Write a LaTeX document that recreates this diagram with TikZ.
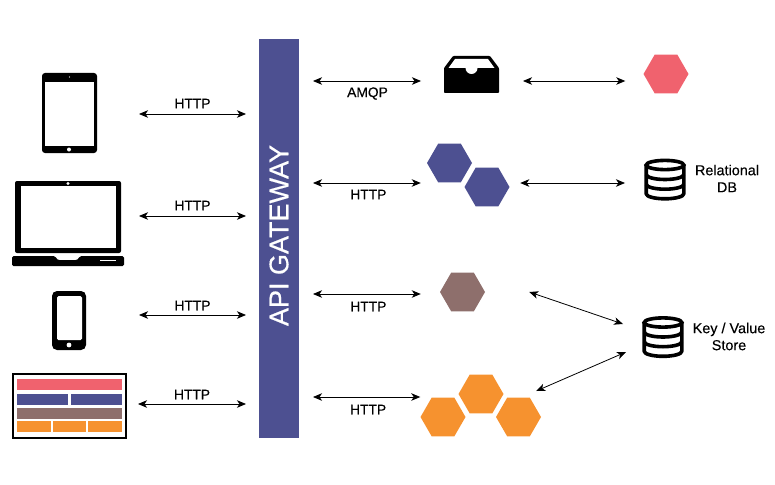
\documentclass[tikz,border=0pt]{standalone}
\usepackage{fontspec}
\setmainfont{Liberation Sans}
\newfontfamily\medfont[FakeBold=0.25]{Liberation Sans}
\newfontfamily\gwfont[FakeBold=0.5]{Liberation Sans}
\usetikzlibrary{arrows.meta,shapes.geometric,calc}
\definecolor{gwblue}{HTML}{4D5091}
\definecolor{svcred}{HTML}{F0626E}
\definecolor{svcbrown}{HTML}{8E6F6C}
\definecolor{svcorange}{HTML}{F6922F}
\tikzset{
  link/.style={{Stealth[length=9,width=7.5,inset=2.5]}-{Stealth[length=9,width=7.5,inset=2.5]},line width=0.8,black},
  lbl/.style={font=\medfont\fontsize{13.8}{16}\selectfont,inner sep=0,align=center},
  dblbl/.style={font=\medfont\fontsize{14.4}{17}\selectfont,inner sep=0,align=center},
  hexa/.style={regular polygon,regular polygon sides=6,minimum size=45,inner sep=0,fill=#1},
  holder/.style={inner sep=0,outer sep=0},
  bar/.style={fill=#1},
  pics/dbicon/.style={code={
    \draw[line width=3.6,black,fill=white,line join=round] (-18.8,-14.5) -- (-18.8,14.3) arc[start angle=180,end angle=0,x radius=18.8,y radius=5] -- (18.8,-14.5);
    \draw[line width=3.6,black,fill=white] (0,-14.5) ellipse[x radius=18.8,y radius=4.6];
    \draw[line width=3.6,black] (-18.8,-5) arc[start angle=180,end angle=0,x radius=18.8,y radius=5];
    \draw[line width=3.6,black] (-18.8,4.7) arc[start angle=180,end angle=0,x radius=18.8,y radius=5];
  }}
}
\begin{document}
\begin{tikzpicture}[x=1pt,y=-1pt]
\useasboundingbox (0,0) rectangle (775,484);
% gateway
\node[holder,fill=gwblue,minimum width=40,minimum height=399] (gateway) at (279,238.5) {};
\node[rotate=90,text=white,inner sep=0,font=\gwfont\fontsize{27}{30}\selectfont] (gatewayT) at ([yshift=3]gateway.center) {API GATEWAY};
% tablet
\node[holder,fill=black,rounded corners=3,minimum width=55,minimum height=80] (tablet) at (69.5,113) {};
\fill[white] (45,82) rectangle (94,146);
\fill[white] (69,149.5) circle[radius=2];
\fill[white] (69.5,77) circle[radius=0.6];
% laptop
\node[holder,minimum width=112,minimum height=85] (laptop) at (68,223.5) {};
\fill[black,rounded corners=2] (15,253) rectangle (121,181);
\fill[white] (20.5,186) rectangle (115.5,248);
\fill[white] (68,183.5) circle[radius=1.6];
\fill[black,rounded corners=1.5] (12,256) -- (55,256) .. controls (57,259.5) and (58,260) .. (61,260) -- (74,260) .. controls (77,260) and (78,259.5) .. (80,256) -- (124,256) -- (124,266) -- (12,266) -- cycle;
\fill[white] (100,259.5) rectangle (116,261);
% phone
\node[holder,fill=black,rounded corners=5,minimum width=34,minimum height=59] (phone) at (69,320.5) {};
\fill[white,rounded corners=1.5] (57,296) rectangle (82,340);
\fill[white] (69,345) circle[radius=2.4];
% browser
\node[holder,draw=black,line width=2,minimum width=113,minimum height=64] (browser) at (69.5,406) {};
\fill[bar=svcred] (17,379) rectangle (122,390);
\fill[bar=gwblue] (17,393.5) rectangle (67.5,404.5);
\fill[bar=gwblue] (70.5,393.5) rectangle (122,404.5);
\fill[bar=svcbrown] (17,407.5) rectangle (122,418.5);
\fill[bar=svcorange] (17,421) rectangle (50.5,432);
\fill[bar=svcorange] (52.5,421) rectangle (86,432);
\fill[bar=svcorange] (88,421) rectangle (122,432);
% inbox
\node[holder,minimum width=55,minimum height=37] (inbox) at (471.5,74.5) {};
\fill[black,rounded corners=0.8] (444,68) -- (453,56) -- (490,56) -- (499,68) -- (499,93) -- (444,93) -- cycle;
\fill[white] (448.5,68) -- (455,59) -- (488,59) -- (494.5,68) -- (477.5,68) arc[start angle=0,end angle=180,x radius=6,y radius=6] -- cycle;
% services
\node[hexa=svcred] (red) at (666,74) {};
\node[hexa=gwblue] (blueA) at (449.5,163) {};
\node[hexa=gwblue] (blueB) at (487,187) {};
\node[hexa=svcbrown] (brown) at (462.5,292) {};
\node[hexa=svcorange] (orangeT) at (481,394) {};
\node[hexa=svcorange] (orangeL) at (443,417) {};
\node[hexa=svcorange] (orangeR) at (518.5,417) {};
% databases
\node[holder,minimum width=42,minimum height=41] (reldb) at (665,179.5) {};
\pic at (reldb.center) {dbicon};
\node[holder,minimum width=42,minimum height=41] (kvdb) at (663,337) {};
\pic at (kvdb.center) {dbicon};
\node[dblbl] (reldbT) at (727,178.5) {Relational\\DB};
\node[dblbl] (kvdbT) at (729,336.5) {Key / Value\\Store};
% left connectors
\draw[link] ([shift={(42,1)}]tablet.east) -- ([shift={(-13,1)}]gateway.west |- tablet.east) node[lbl,midway,yshift=10.5] (h1) {HTTP};
\draw[link] ([shift={(15,-7.5)}]laptop.east) -- ([shift={(-13,-7.5)}]gateway.west |- laptop.east) node[lbl,midway,yshift=10.5] (h2) {HTTP};
\draw[link] ([shift={(53,-5.5)}]phone.east) -- ([shift={(-13,-5.5)}]gateway.west |- phone.east) node[lbl,midway,yshift=9.5] (h3) {HTTP};
\draw[link] ([shift={(12,-2)}]browser.east) -- ([shift={(-13,-2)}]gateway.west |- browser.east) node[lbl,midway,yshift=9.5] (h4) {HTTP};
% right connectors
\draw[link] ([shift={(14,6.5)}]gateway.east |- inbox.west) -- ([shift={(-23,6.5)}]inbox.west) node[lbl,midway,yshift=-12.5,xshift=0.5] (a1) {AMQP};
\draw[link] ([shift={(14,20)}]gateway.east |- blueA.west) -- ([shift={(-6,20)}]blueA.west) node[lbl,midway,yshift=-11.5,xshift=1.5] (h5) {HTTP};
\draw[link] ([shift={(14,2)}]gateway.east |- brown.west) -- ([shift={(-19,2)}]brown.west) node[lbl,midway,yshift=-12.5,xshift=1.5] (h6) {HTTP};
\draw[link] ([shift={(14,3)}]gateway.east |- orangeT.west) -- ([shift={(-38,3)}]orangeT.west) node[lbl,midway,yshift=-12.5,xshift=1.5] (h7) {HTTP};
\draw[link] ([shift={(24,6.5)}]inbox.east) -- ([shift={(-18,7)}]red.west);
\draw[link] ([shift={(10.5,-4)}]blueB.east) -- ([shift={(-19,3.5)}]reldb.west);
\draw[link] ([shift={(44,0)}]brown.east) -- ([shift={(-19,-13)}]kvdb.west);
\draw[link] ([shift={(-5,-26)}]orangeR.east) -- ([shift={(-16,15)}]kvdb.west);
\end{tikzpicture}
\end{document}
